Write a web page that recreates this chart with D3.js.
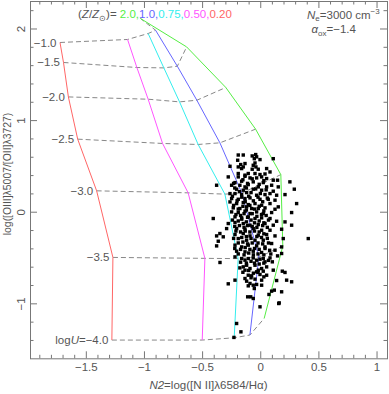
<!DOCTYPE html>
<html><head><meta charset="utf-8">
<script src="https://cdn.jsdelivr.net/npm/d3@7"></script>
<style>body{margin:0;background:#fff} svg text{font-family:"Liberation Sans",Arial,Helvetica,sans-serif}</style>
</head><body><svg id="c" width="389" height="394"></svg>
<script>
// ---- data ----
const xDomain = [-1.98, 1.09];
const yDomain = [-1.6, 2.3];
const xMajorTicks = [-1.5, -1, -0.5, 0, 0.5, 1];
const yMajorTicks = [-1, 0, 1, 2];
const logU = [-1.0, -1.5, -2.0, -2.5, -3.0, -3.5, -4.0];
const logULabels = ["−1.0", "−1.5", "−2.0", "−2.5", "−3.0", "−3.5", "−4.0"];
const metallicities = ["2.0", "1.0", "0.75", "0.50", "0.20"];
// model grids: N2 and O32 at each logU (-1.0 ... -4.0)
const n2_Z2_00 = [-1.030, -0.633, -0.296, -0.040, 0.177, 0.194, 0.034];
const o32_Z2_00 = [2.109, 1.799, 1.356, 0.901, 0.405, -0.375, -1.164];
const n2_Z1_00 = [-0.900, -0.713, -0.545, -0.347, -0.158, -0.012, -0.089];
const o32_Z1_00 = [1.981, 1.588, 1.217, 0.752, 0.203, -0.495, -1.346];
const n2_Z0_75 = [-0.964, -0.829, -0.694, -0.534, -0.304, -0.190, -0.224];
const o32_Z0_75 = [1.945, 1.570, 1.199, 0.734, 0.192, -0.512, -1.376];
const n2_Z0_50 = [-1.141, -1.061, -0.964, -0.840, -0.620, -0.476, -0.499];
const o32_Z0_50 = [1.880, 1.574, 1.228, 0.745, 0.206, -0.509, -1.401];
const n2_Z0_20 = [-1.722, -1.692, -1.650, -1.570, -1.407, -1.267, -1.276];
const o32_Z0_20 = [1.847, 1.629, 1.253, 0.792, 0.228, -0.499, -1.401];
// observed objects [N2, O32]
const observed = [
[-0.19,0.62],[-0.147,0.62],[-0.07,0.61],[-0.04,0.625],[-0.032,0.60],[-0.052,0.58],[-0.003,0.57],[0.111,0.58],[-0.195,0.563],[-0.169,0.516],[-0.132,0.527],[-0.261,0.497],[-0.19,0.49],[-0.161,0.472],[-0.147,0.49],[-0.061,0.508],[-0.046,0.533],[-0.038,0.49],[-0.07,0.465],[-0.018,0.465],[0.054,0.472],[0.083,0.435],[-0.104,0.418],[-0.132,0.40],[-0.19,0.418],[-0.046,0.418],[-0.003,0.407],[0.04,0.413],
[-0.276,0.381],[-0.19,0.381],[-0.132,0.388],[-0.089,0.37],[-0.032,0.37],[0.011,0.381],[0.054,0.363],[0.111,0.345],[0.148,0.345],[0.254,0.327],[-0.161,0.334],[-0.218,0.319],[-0.061,0.327],[0.025,0.319],
[-0.376,0.29],[-0.247,0.29],[-0.176,0.29],[-0.132,0.272],[-0.104,0.297],[-0.018,0.272],[0.054,0.272],[0.097,0.29],[0.154,0.272],[0.292,0.247],[-0.204,0.247],[-0.147,0.236],[-0.061,0.247],[0.011,0.236],[0.111,0.225],
[-0.261,0.199],[-0.218,0.199],[-0.161,0.188],[-0.118,0.21],[-0.032,0.181],[0.04,0.188],[0.083,0.199],[0.14,0.181],[0.212,0.188],[-0.247,0.145],[-0.19,0.137],[-0.132,0.145],[-0.089,0.152],[-0.003,0.137],[0.068,0.137],[0.126,0.127],[0.312,0.09],
[-0.261,0.108],[-0.204,0.09],[-0.147,0.101],[-0.104,0.079],[-0.046,0.09],[0.011,0.072],[0.083,0.09],[0.154,0.054],[-0.233,0.043],[-0.176,0.036],[-0.118,0.054],[-0.075,0.036],[-0.018,0.036],[0.04,0.043],[0.126,0.028],
[-0.247,-0.001],[-0.19,-0.008],[-0.132,0.007],[-0.089,-0.019],[-0.032,-0.001],[0.025,-0.019],[0.097,-0.008],[0.269,-0.008],[-0.405,-0.073],[-0.218,-0.055],[-0.161,-0.066],[-0.104,-0.055],[-0.046,-0.073],[0.011,-0.066],[0.083,-0.073],[0.14,-0.103],[0.212,-0.11],
[-0.276,-0.128],[-0.218,-0.117],[-0.147,-0.128],[-0.089,-0.146],[-0.018,-0.139],[0.04,-0.128],[0.111,-0.146],[0.269,-0.146],[-0.29,-0.183],[-0.204,-0.183],[-0.132,-0.19],[-0.061,-0.183],[0.011,-0.201],[0.083,-0.201],[0.183,-0.19],
[-0.348,-0.237],[-0.376,-0.263],[-0.319,-0.273],[-0.218,-0.248],[-0.147,-0.237],[-0.089,-0.263],[-0.018,-0.255],[0.054,-0.248],[0.126,-0.263],[-0.19,-0.292],[-0.118,-0.31],[-0.046,-0.31],[0.025,-0.31],[0.197,-0.292],[0.412,-0.292],[-0.362,-0.321],
[-0.376,-0.372],[-0.218,-0.364],[-0.161,-0.383],[-0.104,-0.364],[-0.032,-0.372],[0.04,-0.383],[0.097,-0.346],[-0.204,-0.43],[-0.132,-0.437],[-0.061,-0.43],[0.011,-0.444],[0.126,-0.419],[0.183,-0.455],[0.183,-0.383],
[-0.347,-0.553],[-0.218,-0.492],[-0.161,-0.51],[-0.132,-0.528],[-0.104,-0.51],[-0.061,-0.503],[-0.032,-0.528],[-0.003,-0.517],[0.025,-0.51],[0.04,-0.546],[0.083,-0.503],[0.103,-0.546],[0.148,-0.481],
[-0.176,-0.612],[-0.147,-0.601],[-0.118,-0.583],[-0.089,-0.619],[-0.046,-0.583],[-0.018,-0.637],[0.011,-0.619],[0.054,-0.601],[-0.132,-0.637],[-0.032,-0.655],[0.025,-0.648],[0.111,-0.637],[0.189,-0.648],[0.212,-0.662],
[-0.104,-0.692],[-0.075,-0.699],[-0.003,-0.684],[0.054,-0.692],[-0.132,-0.728],[-0.118,-0.757],[-0.046,-0.735],[0.011,-0.746],[0.14,-0.75],[0.226,-0.746],[0.269,-0.764],[-0.218,-0.746],[-0.276,-0.786],
[-0.089,-0.782],[-0.061,-0.801],[-0.032,-0.793],[-0.052,-0.837],[0.011,-0.801],[0.097,-0.866],[0.183,-0.873],[-0.104,-0.808],[-0.109,-0.928],[-0.061,-0.946],[0.074,-0.902],[0.12,-0.855],[-0.003,-1.037],[0.158,-1.001],
[-0.204,-1.219],[-0.167,-1.31],[-0.227,-1.371],[-0.083,-0.928],[0.162,-0.994],
[-0.23,0.31],[-0.15,0.35],[-0.11,0.31],[-0.07,0.36],[-0.01,0.30],[0.03,0.34],
[-0.22,0.26],[-0.18,0.22],[-0.12,0.26],[-0.08,0.21],[-0.04,0.25],[0.00,0.20],[0.05,0.24],
[-0.24,0.17],[-0.20,0.12],[-0.16,0.16],[-0.13,0.11],[-0.10,0.17],[-0.06,0.12],[-0.02,0.16],[0.02,0.11],[0.06,0.15],
[-0.23,0.07],[-0.19,0.03],[-0.15,0.06],[-0.12,0.02],[-0.09,0.07],[-0.05,0.03],[-0.01,0.06],[0.03,0.01],
[-0.21,-0.03],[-0.17,-0.04],[-0.14,-0.02],[-0.11,-0.06],[-0.07,-0.02],[-0.03,-0.05],[0.01,-0.03],[0.05,-0.04],
[-0.24,-0.09],[-0.19,-0.10],[-0.16,-0.08],[-0.12,-0.11],[-0.08,-0.09],[-0.05,-0.12],[-0.01,-0.10],[0.03,-0.12],[0.07,-0.09],
[-0.22,-0.16],[-0.18,-0.15],[-0.14,-0.17],[-0.11,-0.15],[-0.07,-0.16],[-0.03,-0.17],[0.02,-0.15],[0.06,-0.17],
[-0.21,-0.21],[-0.17,-0.22],[-0.13,-0.21],[-0.09,-0.22],[-0.05,-0.21],[-0.01,-0.22],[0.03,-0.24],
[-0.23,-0.29],[-0.16,-0.28],[-0.12,-0.27],[-0.08,-0.29],[-0.03,-0.27],[0.01,-0.28],[0.06,-0.29],
[-0.19,-0.34],[-0.15,-0.33],[-0.11,-0.35],[-0.07,-0.34],[-0.02,-0.34],[0.02,-0.35],[0.07,-0.34],
[-0.22,-0.40],[-0.17,-0.41],[-0.13,-0.39],[-0.09,-0.41],[-0.05,-0.40],[-0.01,-0.41],[0.04,-0.40],[0.08,-0.42],
[-0.19,-0.46],[-0.14,-0.47],[-0.10,-0.45],[-0.06,-0.47],[-0.02,-0.46],[0.03,-0.47],[0.09,-0.46],
[-0.17,-0.55],[-0.12,-0.56],[-0.08,-0.54],[-0.05,-0.56],[-0.01,-0.57],[0.03,-0.56],[0.07,-0.53],
[-0.15,-0.66],[-0.10,-0.64],[-0.06,-0.67],[-0.02,-0.66],[0.03,-0.71],[-0.08,-0.72]
];

// ---- styling ----
const lineColors = ["#55ee44", "#6666ff", "#33eeee", "#ff55ff", "#ff6666"];
const gridN2 = [n2_Z2_00, n2_Z1_00, n2_Z0_75, n2_Z0_50, n2_Z0_20];
const gridO32 = [o32_Z2_00, o32_Z1_00, o32_Z0_75, o32_Z0_50, o32_Z0_20];
const textColor = "#555";
const axisColor = "#777";

const svg = d3.select("#c");
const X0 = 30, X1 = 387, Y0 = 1, Y1 = 358.3;
const x = d3.scaleLinear().domain(xDomain).range([X0, X1]);
const y = d3.scaleLinear().domain(yDomain).range([Y1, Y0]);

const xMinor = d3.range(-19, 11).map(d => d / 10).filter(v => !xMajorTicks.some(t => Math.abs(t - v) < 1e-6));
const yMinor = d3.range(-7, 12).map(d => +(d * 0.2).toFixed(1)).filter(v => !yMajorTicks.some(t => Math.abs(t - v) < 1e-6) && v > yDomain[0] && v < yDomain[1]);
const fmt = d => d3.format("")(d);

function styleAxis(g) {
  g.select(".domain").remove();
  g.selectAll("line").attr("stroke", axisColor);
  g.selectAll("text").attr("fill", textColor).style("font-size", "11.5px");
}

// bottom
svg.append("g").attr("transform", `translate(0,${Y1})`)
  .call(d3.axisBottom(x).tickValues(xMajorTicks).tickSize(-7).tickSizeOuter(0).tickPadding(5).tickFormat(fmt)).call(styleAxis);
svg.append("g").attr("transform", `translate(0,${Y1})`)
  .call(d3.axisBottom(x).tickValues(xMinor).tickSize(-3.5).tickFormat("")).call(styleAxis);
// top
svg.append("g").attr("transform", `translate(0,${Y0})`)
  .call(d3.axisTop(x).tickValues(xMajorTicks).tickSize(-7).tickFormat("")).call(styleAxis);
svg.append("g").attr("transform", `translate(0,${Y0})`)
  .call(d3.axisTop(x).tickValues(xMinor).tickSize(-3.5).tickFormat("")).call(styleAxis);
// left
const gl = svg.append("g").attr("transform", `translate(${X0},0)`)
  .call(d3.axisLeft(y).tickValues(yMajorTicks).tickSize(-7).tickFormat(fmt)).call(styleAxis);
gl.selectAll("text").attr("x", null).attr("dy", null).attr("text-anchor", "middle")
  .attr("transform", "translate(-5,0) rotate(-90)");
svg.append("g").attr("transform", `translate(${X0},0)`)
  .call(d3.axisLeft(y).tickValues(yMinor).tickSize(-3.5).tickFormat("")).call(styleAxis);
// right
svg.append("g").attr("transform", `translate(${X1},0)`)
  .call(d3.axisRight(y).tickValues(yMajorTicks).tickSize(-7).tickFormat("")).call(styleAxis);
svg.append("g").attr("transform", `translate(${X1},0)`)
  .call(d3.axisRight(y).tickValues(yMinor).tickSize(-3.5).tickFormat("")).call(styleAxis);

// frame
svg.append("rect").attr("x", X0 + 0.5).attr("y", Y0 + 0.5).attr("width", X1 - X0).attr("height", Y1 - Y0)
  .attr("fill", "none").attr("stroke", axisColor);

const line = d3.line().x(d => x(d[0])).y(d => y(d[1]));

// iso-logU dashed lines (connect Z = 0.20 -> 0.50 -> 0.75 -> 1.0 -> 2.0)
logU.forEach((u, i) => {
  const pts = [4, 3, 2, 1, 0].map(k => [gridN2[k][i], gridO32[k][i]]);
  svg.append("path").attr("d", line(pts)).attr("fill", "none")
    .attr("stroke", "#888").attr("stroke-width", 1).attr("stroke-dasharray", "5,3");
});

// metallicity tracks
metallicities.forEach((m, k) => {
  const pts = logU.map((u, i) => [gridN2[k][i], gridO32[k][i]]);
  svg.append("path").attr("d", line(pts)).attr("fill", "none")
    .attr("stroke", lineColors[k]).attr("stroke-width", 1);
});

// logU labels near Z=0.20 track
logU.forEach((u, i) => {
  const t = svg.append("text").attr("x", x(n2_Z0_20[i]) - 3.5).attr("y", y(o32_Z0_20[i]))
    .attr("dy", "0.35em").attr("text-anchor", "end").attr("fill", textColor).style("font-size", "11.5px");
  if (i === logU.length - 1) {
    t.append("tspan").text("log");
    t.append("tspan").style("font-style", "italic").text("U");
    t.append("tspan").text("=" + logULabels[i]);
  } else t.text(logULabels[i]);
});

// observed points
svg.append("g").selectAll("rect").data(observed).join("rect")
  .attr("x", d => x(d[0]) - 1.6).attr("y", d => y(d[1]) - 1.6)
  .attr("width", 3.4).attr("height", 3.4).attr("fill", "#000");

// legend
const lg = svg.append("text").attr("x", 78).attr("y", 18).attr("fill", textColor).style("font-size", "11.5px");
lg.append("tspan").text("(");
lg.append("tspan").style("font-style", "italic").text("Z");
lg.append("tspan").text("/");
lg.append("tspan").style("font-style", "italic").text("Z");
lg.append("tspan").attr("dy", 3).style("font-size", "8px").text("⊙");
lg.append("tspan").attr("dy", -3).text(")= ");
metallicities.forEach((m, k) => {
  lg.append("tspan").attr("fill", lineColors[k]).text(m + (k < metallicities.length - 1 ? "," : ""));
});

// top-right annotation
const t1 = svg.append("text").attr("x", 307).attr("y", 18.5).attr("fill", textColor).style("font-size", "11.5px");
t1.append("tspan").style("font-style", "italic").text("N");
t1.append("tspan").attr("dy", 2.5).style("font-size", "8px").text("e");
t1.append("tspan").attr("dy", -2.5).text("=3000 cm");
t1.append("tspan").attr("dy", -4.5).style("font-size", "8px").text("−3");
const t2 = svg.append("text").attr("x", 311.5).attr("y", 33).attr("fill", textColor).style("font-size", "11.5px");
t2.append("tspan").style("font-style", "italic").text("α");
t2.append("tspan").attr("dy", 2.5).style("font-size", "8px").text("ox");
t2.append("tspan").attr("dy", -2.5).text("=−1.4");

// axis titles
const xt = svg.append("text").attr("x", (X0 + X1) / 2).attr("y", 389).attr("text-anchor", "middle")
  .attr("fill", textColor).style("font-size", "11.5px");
xt.append("tspan").style("font-style", "italic").text("N2");
xt.append("tspan").text("=log([N II]λ6584/Hα)");
svg.append("text").attr("transform", `translate(11,174) rotate(-90)`).attr("text-anchor", "middle")
  .attr("fill", textColor).style("font-size", "10.4px").text("log([OIII]λ5007/[OII]λ3727)");
</script></body></html>
